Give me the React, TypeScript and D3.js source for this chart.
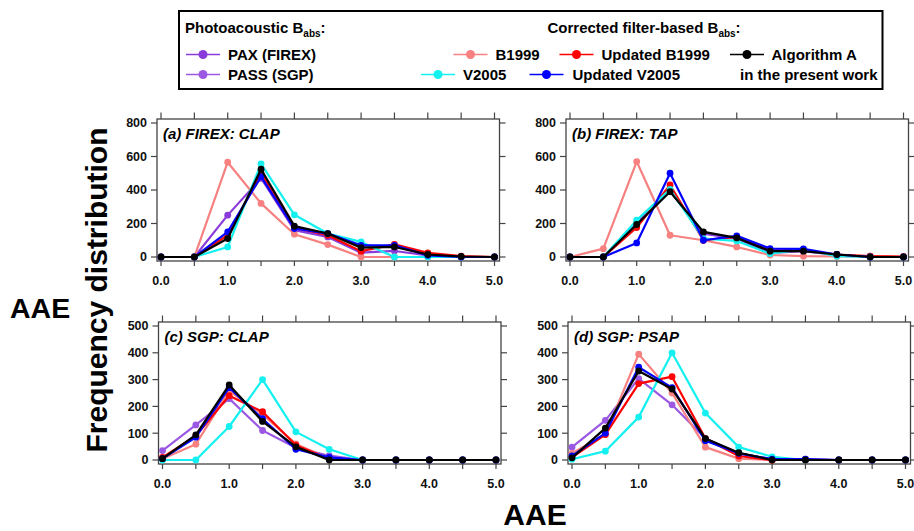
import React from "react";
import * as d3 from "d3";

// ---------- data ----------
const AAE_BINS = [0, 0.5, 1, 1.5, 2, 2.5, 3, 3.5, 4, 4.5, 5];
const X_TICK_VALUES = [0, 1, 2, 3, 4, 5];
const Y_TICKS_FIREX = [0, 200, 400, 600, 800];
const Y_TICKS_SGP = [0, 100, 200, 300, 400, 500];

// (a) FIREX: CLAP
const A_PAX = [0, 0, 250, 470, 160, 120, 26, 36, 10, 0, 0];
const A_B1999 = [0, 0, 566, 320, 136, 74, 0, 0, 0, 0, 0];
const A_UPD_B1999 = [0, 0, 130, 500, 175, 130, 35, 75, 25, 5, 0];
const A_V2005 = [0, 0, 60, 556, 252, 140, 90, 0, 0, 0, 0];
const A_UPD_V2005 = [0, 0, 150, 480, 170, 140, 70, 70, 10, 0, 0];
const A_ALGO = [0, 0, 110, 524, 184, 140, 56, 60, 15, 3, 0];

// (b) FIREX: TAP
const B_PAX = [0, 0, 205, 395, 140, 110, 25, 35, 12, 0, 0];
const B_B1999 = [0, 50, 570, 130, 100, 60, 12, 5, 3, 5, 0];
const B_UPD_B1999 = [0, 0, 176, 430, 100, 120, 40, 40, 15, 5, 3];
const B_V2005 = [0, 0, 220, 404, 110, 96, 20, 46, 5, 0, 0];
const B_UPD_V2005 = [0, 0, 84, 500, 100, 126, 50, 48, 15, 0, 0];
const B_ALGO = [0, 0, 194, 390, 150, 114, 35, 35, 15, 0, 0];

// (c) SGP: CLAP
const C_PASS = [35, 131, 229, 110, 46, 16, 0, 0, 0, 0, 0];
const C_B1999 = [5, 59, 258, 170, 60, 5, 0, 0, 0, 0, 0];
const C_UPD_B1999 = [10, 90, 240, 180, 55, 5, 0, 0, 0, 0, 0];
const C_V2005 = [0, 0, 125, 300, 105, 40, 0, 0, 0, 0, 0];
const C_UPD_V2005 = [5, 85, 270, 154, 40, 10, 0, 0, 0, 0, 0];
const C_ALGO = [5, 94, 280, 144, 49, 0, 0, 0, 0, 0, 0];

// (d) SGP: PSAP
const D_PASS = [48, 148, 304, 206, 80, 25, 3, 3, 0, 0, 0];
const D_B1999 = [25, 95, 395, 250, 48, 5, 0, 0, 0, 0, 0];
const D_UPD_B1999 = [10, 95, 285, 311, 80, 15, 0, 0, 0, 0, 0];
const D_V2005 = [3, 33, 160, 400, 175, 48, 12, 0, 0, 0, 0];
const D_UPD_V2005 = [15, 100, 346, 270, 72, 25, 3, 3, 0, 0, 0];
const D_ALGO = [8, 119, 332, 265, 80, 27, 0, 0, 0, 0, 0];

// ---------- styles ----------
const COLORS: Record<string, string> = {
  PAX: "#8A3BDB",
  PASS: "#9B59E3",
  B1999: "#F78080",
  UPD_B1999: "#FF0000",
  V2005: "#14F0F0",
  UPD_V2005: "#0000FF",
  ALGO: "#000000",
};

const FONT = "'Liberation Sans', Arial, Helvetica, sans-serif";
const AXIS = "#444";
const LEGEND_FS = 15;

type Series = { key: string; values: number[] };
type PanelDef = {
  title: string;
  x0: number; x1: number; y0: number; y1: number;
  yMax: number;
  yTicks: number[];
  series: Series[];
};

const PANELS: PanelDef[] = [
  {
    title: "(a) FIREX: CLAP", x0: 157, x1: 499.5, y0: 119, y1: 261, yMax: 800, yTicks: Y_TICKS_FIREX,
    series: [
      { key: "PAX", values: A_PAX }, { key: "B1999", values: A_B1999 },
      { key: "UPD_B1999", values: A_UPD_B1999 }, { key: "V2005", values: A_V2005 },
      { key: "UPD_V2005", values: A_UPD_V2005 }, { key: "ALGO", values: A_ALGO },
    ],
  },
  {
    title: "(b) FIREX: TAP", x0: 566, x1: 908.5, y0: 119, y1: 261, yMax: 800, yTicks: Y_TICKS_FIREX,
    series: [
      { key: "PAX", values: B_PAX }, { key: "B1999", values: B_B1999 },
      { key: "UPD_B1999", values: B_UPD_B1999 }, { key: "V2005", values: B_V2005 },
      { key: "UPD_V2005", values: B_UPD_V2005 }, { key: "ALGO", values: B_ALGO },
    ],
  },
  {
    title: "(c) SGP: CLAP", x0: 158.5, x1: 501, y0: 322, y1: 464, yMax: 500, yTicks: Y_TICKS_SGP,
    series: [
      { key: "PASS", values: C_PASS }, { key: "B1999", values: C_B1999 },
      { key: "UPD_B1999", values: C_UPD_B1999 }, { key: "V2005", values: C_V2005 },
      { key: "UPD_V2005", values: C_UPD_V2005 }, { key: "ALGO", values: C_ALGO },
    ],
  },
  {
    title: "(d) SGP: PSAP", x0: 568, x1: 910.5, y0: 322, y1: 464, yMax: 500, yTicks: Y_TICKS_SGP,
    series: [
      { key: "PASS", values: D_PASS }, { key: "B1999", values: D_B1999 },
      { key: "UPD_B1999", values: D_UPD_B1999 }, { key: "V2005", values: D_V2005 },
      { key: "UPD_V2005", values: D_UPD_V2005 }, { key: "ALGO", values: D_ALGO },
    ],
  },
];

function Panel({ p }: { p: PanelDef }) {
  const x = d3.scaleLinear().domain([0, 5]).range([p.x0 + 4, p.x1 - 5]);
  const y = d3.scaleLinear().domain([0, p.yMax]).range([p.y1 - 4, p.y0 + 4]);
  const line = d3
    .line<number>()
    .x((_, i) => x(AAE_BINS[i]))
    .y((d) => y(d));
  return (
    <g>
      <rect x={p.x0} y={p.y0} width={p.x1 - p.x0} height={p.y1 - p.y0} fill="none" stroke={AXIS} strokeWidth={1.3} />
      {p.yTicks.map((t) => (
        <g key={"y" + t}>
          <line x1={p.x0 - 6} x2={p.x0} y1={y(t)} y2={y(t)} stroke={AXIS} strokeWidth={1.2} />
          <line x1={p.x1} x2={p.x1 + 6} y1={y(t)} y2={y(t)} stroke={AXIS} strokeWidth={1.2} />
          <text x={p.x0 - 10} y={y(t)} dy="0.35em" textAnchor="end" fontFamily={FONT} fontWeight="bold" fontSize={12.5} fill="#111">
            {t}
          </text>
        </g>
      ))}
      {AAE_BINS.map((v) => (
        <g key={"x" + v}>
          <line x1={x(v)} x2={x(v)} y1={p.y0 - 6.5} y2={p.y0} stroke={AXIS} strokeWidth={1.2} />
          <line x1={x(v)} x2={x(v)} y1={p.y1} y2={p.y1 + 5} stroke={AXIS} strokeWidth={1.2} />
        </g>
      ))}
      {X_TICK_VALUES.map((v) => (
        <text key={"xl" + v} x={x(v)} y={p.y1 + 24} textAnchor="middle" fontFamily={FONT} fontWeight="bold" fontSize={12.5} fill="#111">
          {d3.format(".1f")(v)}
        </text>
      ))}
      {p.series.map((s) => (
        <g key={s.key}>
          <path d={line(s.values) || ""} fill="none" stroke={COLORS[s.key]} strokeWidth={2.2} strokeLinejoin="round" />
          {s.values.map((v, i) => (
            <circle key={i} cx={x(AAE_BINS[i])} cy={y(v)} r={3.4} fill={COLORS[s.key]} />
          ))}
        </g>
      ))}
      <text x={p.x0 + 6} y={p.y0 + 19.5} fontFamily={FONT} fontWeight="bold" fontStyle="italic" fontSize={15} fill="#000">
        {p.title}
      </text>
    </g>
  );
}

function LegendItem({ cx, cy, color, label, tx }: { cx: number; cy: number; color: string; label: string; tx: number }) {
  return (
    <g>
      <line x1={cx - 17} x2={cx + 17} y1={cy} y2={cy} stroke={color} strokeWidth={1.5} />
      <circle cx={cx} cy={cy} r={4.5} fill={color} />
      <text x={tx} y={cy + 5.3} fontFamily={FONT} fontWeight="bold" fontSize={LEGEND_FS} fill="#000">
        {label}
      </text>
    </g>
  );
}

function Legend() {
  const r1 = 54.5;
  const r2 = 74.5;
  return (
    <g>
      <rect x={179} y={11} width={703.5} height={78} fill="#fff" stroke="#000" strokeWidth={2} />
      <text x={185} y={33} fontFamily={FONT} fontWeight="bold" fontSize={LEGEND_FS} fill="#000">
        Photoacoustic B<tspan fontSize={10} dy={4}>abs</tspan><tspan dy={-4}>:</tspan>
      </text>
      <text x={547.5} y={33} fontFamily={FONT} fontWeight="bold" fontSize={LEGEND_FS} fill="#000">
        Corrected filter-based B<tspan fontSize={10} dy={4}>abs</tspan><tspan dy={-4}>:</tspan>
      </text>
      <LegendItem cx={203} cy={r1} color={COLORS.PAX} label="PAX (FIREX)" tx={228} />
      <LegendItem cx={203} cy={r2} color={COLORS.PASS} label="PASS (SGP)" tx={228} />
      <LegendItem cx={470.5} cy={r1} color={COLORS.B1999} label="B1999" tx={495.5} />
      <LegendItem cx={576.5} cy={r1} color={COLORS.UPD_B1999} label="Updated B1999" tx={601.5} />
      <LegendItem cx={747} cy={r1} color={COLORS.ALGO} label="Algorithm A" tx={771.5} />
      <LegendItem cx={438} cy={r2} color={COLORS.V2005} label="V2005" tx={463} />
      <LegendItem cx={546.5} cy={r2} color={COLORS.UPD_V2005} label="Updated V2005" tx={572.5} />
      <text x={740} y={r2 + 5.3} fontFamily={FONT} fontWeight="bold" fontSize={LEGEND_FS} fill="#000">
        in the present work
      </text>
    </g>
  );
}

export default function App() {
  return (
    <svg width={914} height={531} style={{ position: "absolute", left: 0, top: 0, background: "#fff" }}>
      <rect x={0} y={0} width={914} height={531} fill="#fff" />
      <Legend />
      {PANELS.map((p) => (
        <Panel key={p.title} p={p} />
      ))}
      <text
        transform="translate(107,290) rotate(-90)"
        textAnchor="middle"
        fontFamily={FONT}
        fontWeight="bold"
        fontSize={30}
        fill="#000"
      >
        Frequency distribution
      </text>
      <text x={10} y={318} fontFamily={FONT} fontWeight="bold" fontSize={28.5} fill="#000">
        AAE
      </text>
      <text x={535} y={525} textAnchor="middle" fontFamily={FONT} fontWeight="bold" fontSize={30} fill="#000">
        AAE
      </text>
    </svg>
  );
}
